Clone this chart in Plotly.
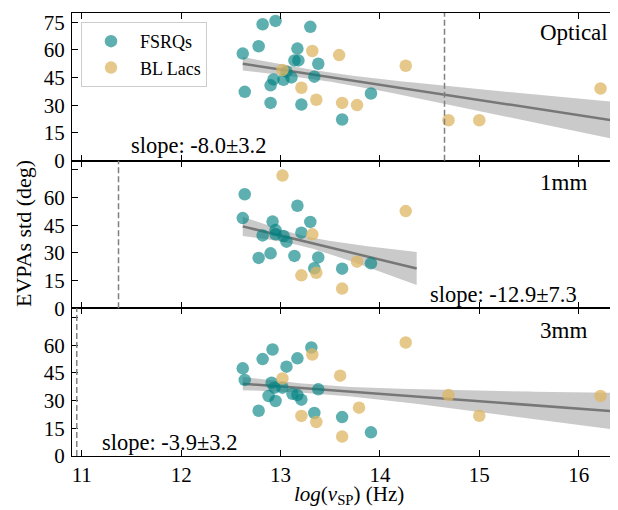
import numpy as np
import plotly.graph_objects as go

# ---------------- data ----------------
panel_names = ["Optical", "1mm", "3mm"]
slope_texts = ["slope: -8.0±3.2", "slope: -12.9±7.3", "slope: -3.9±3.2"]

opt_fsrq_x = [12.82, 12.95, 13.30, 12.78, 12.62, 13.17, 13.14, 13.18, 13.38, 13.34,
              13.11, 13.03, 12.93, 12.90, 13.06, 12.64, 12.90, 13.21, 13.62, 13.91]
opt_fsrq_y = [73.9, 75.7, 72.5, 62.0, 58.0, 60.7, 54.3, 54.3, 52.5, 45.5,
              45.1, 43.8, 44.0, 40.8, 48.2, 37.3, 31.3, 30.4, 22.3, 36.4]
opt_bl_x = [13.32, 13.59, 13.02, 13.21, 13.36, 13.62, 13.77, 14.26, 14.69, 15.00, 16.22]
opt_bl_y = [59.4, 57.2, 49.1, 39.5, 33.0, 31.3, 30.1, 51.4, 21.9, 21.9, 39.1]

mm1_fsrq_x = [12.64, 12.62, 13.17, 12.92, 13.30, 12.95, 12.82, 12.95, 13.03, 13.06,
              13.21, 12.78, 12.90, 13.14, 13.38, 13.34, 13.62, 13.91]
mm1_fsrq_y = [61.8, 48.9, 55.6, 47.0, 46.8, 42.4, 39.5, 40.1, 39.2, 36.1,
              41.0, 27.3, 29.8, 28.4, 27.6, 21.7, 21.5, 24.4]
mm1_bl_x = [13.02, 13.32, 13.21, 13.36, 13.62, 13.77, 14.26]
mm1_bl_y = [71.9, 40.1, 17.9, 19.3, 10.7, 25.3, 52.7]

mm3_fsrq_x = [12.92, 12.82, 13.31, 13.17, 12.62, 12.64, 13.06, 12.91, 12.94, 13.02,
              13.38, 12.88, 12.95, 13.12, 13.17, 13.21, 12.78, 13.34, 13.62, 13.91]
mm3_fsrq_y = [57.7, 52.5, 58.8, 52.9, 47.5, 41.2, 48.4, 39.7, 37.0, 37.0,
              36.1, 32.5, 29.8, 33.7, 33.0, 30.5, 24.5, 23.3, 21.1, 12.8]
mm3_bl_x = [13.32, 13.02, 13.60, 13.79, 13.21, 13.36, 13.62, 14.26, 14.69, 15.00, 16.22]
mm3_bl_y = [55.0, 42.0, 43.5, 26.2, 21.7, 18.4, 10.5, 61.5, 33.0, 21.8, 32.5]

# end of regression domain and dashed reference lines (log nu)
fit_x_end = [16.34, 14.37, 16.34]
vline_x = [14.65, 11.37, 10.95]

x_ticks = [11, 12, 13, 14, 15, 16]
y_ticks = [0, 15, 30, 45, 60, 75]
x_range = [10.902, 16.456]
y_range = [0, 80]
CI_Z = 1.0   # 68% confidence band

# ---------------- styling ----------------
FONT = "Liberation Serif"
TEAL = "rgba(0,128,128,0.63)"
TAN = "rgba(222,181,100,0.75)"
LINE_GREY = "#777777"
BAND = "rgba(150,150,150,0.5)"

panels = [
    (opt_fsrq_x, opt_fsrq_y, opt_bl_x, opt_bl_y),
    (mm1_fsrq_x, mm1_fsrq_y, mm1_bl_x, mm1_bl_y),
    (mm3_fsrq_x, mm3_fsrq_y, mm3_bl_x, mm3_bl_y),
]

# plot geometry (pixels)
W, H = 618, 510
ML, MR, MT, MB = 64, 2, 5, 62
ph = H - MT - MB
domains = [[2 / 3, 1.0], [1 / 3, 2 / 3], [0.0, 1 / 3]]

fig = go.Figure()

for i, (fx, fy, bx, by) in enumerate(panels):
    sx = "" if i == 0 else str(i + 1)
    xa, ya = "x" + sx, "y" + sx
    ax = np.array(fx + bx, dtype=float)
    ay = np.array(fy + by, dtype=float)
    slope, intercept = np.polyfit(ax, ay, 1)
    n = len(ax)
    xbar = ax.mean()
    resid = ay - (slope * ax + intercept)
    s = np.sqrt(np.sum(resid ** 2) / (n - 2))
    sxx = np.sum((ax - xbar) ** 2)
    xs = np.linspace(ax.min(), fit_x_end[i], 100)
    yhat = slope * xs + intercept
    se = s * np.sqrt(1.0 / n + (xs - xbar) ** 2 / sxx)
    up, lo = yhat + CI_Z * se, yhat - CI_Z * se
    fig.add_trace(go.Scatter(x=np.concatenate([xs, xs[::-1]]), y=np.concatenate([up, lo[::-1]]),
                             fill="toself", fillcolor=BAND, line=dict(width=0), mode="lines",
                             hoverinfo="skip", showlegend=False, xaxis=xa, yaxis=ya))
    fig.add_trace(go.Scatter(x=xs, y=yhat, mode="lines", line=dict(color=LINE_GREY, width=2.5),
                             showlegend=False, xaxis=xa, yaxis=ya))
    fig.add_trace(go.Scatter(x=fx, y=fy, mode="markers", name="FSRQs",
                             marker=dict(color=TEAL, size=12.5, line=dict(width=0)),
                             showlegend=(i == 0), xaxis=xa, yaxis=ya))
    fig.add_trace(go.Scatter(x=bx, y=by, mode="markers", name="BL Lacs",
                             marker=dict(color=TAN, size=12.5, line=dict(width=0)),
                             showlegend=(i == 0), xaxis=xa, yaxis=ya))
    fig.add_shape(type="line", x0=vline_x[i], x1=vline_x[i], y0=0, y1=1,
                  xref=xa, yref=ya + " domain",
                  line=dict(color="#808080", width=1.5, dash="6px,3px"))

    axis_common = dict(showline=True, linecolor="black", linewidth=1, mirror="allticks",
                       ticks="inside", ticklen=6, tickwidth=1, tickcolor="black",
                       showgrid=False, zeroline=False, automargin=False,
                       tickfont=dict(family=FONT, size=21, color="black"))
    fig.layout["xaxis" + sx] = dict(axis_common, domain=[0, 1], anchor=ya, range=x_range,
                                    tickvals=x_ticks, showticklabels=(i == 2),
                                    matches=None if i == 0 else "x")
    ytext = [str(v) for v in y_ticks]
    if i > 0:
        ytext[-1] = " "
    fig.layout["yaxis" + sx] = dict(axis_common, domain=domains[i], anchor=xa, range=y_range,
                                    tickvals=y_ticks, ticktext=ytext, ticklabelstandoff=2)

def px_x(p):
    return (p - ML) / (W - ML - MR)

def px_y(p):
    return (H - MB - p) / ph

# panel labels
label_y = [25, 174, 322]
for i, name in enumerate(panel_names):
    fig.add_annotation(text=name, x=px_x(530), y=px_y(label_y[i]), xref="paper", yref="paper",
                       xanchor="left", yanchor="middle", showarrow=False,
                       font=dict(family=FONT, size=23, color="black"))

# slope labels
slope_pos = [(121, 137), (420, 286), (92, 434)]
for i, t in enumerate(slope_texts):
    fig.add_annotation(text=t, x=px_x(slope_pos[i][0]), y=px_y(slope_pos[i][1]),
                       xref="paper", yref="paper", xanchor="left", yanchor="middle",
                       showarrow=False, font=dict(family=FONT, size=22.5, color="black"))

# axis titles
fig.add_annotation(text="EVPAs std (deg)", x=px_x(15), y=px_y(226), xref="paper", yref="paper",
                   textangle=-90, xanchor="center", yanchor="middle", showarrow=False,
                   font=dict(family=FONT, size=22, color="black"))
fig.add_annotation(text="<i>log</i>(<i>ν</i><sub>SP</sub>) (Hz)", x=px_x(341), y=px_y(487),
                   xref="paper", yref="paper", xanchor="center", yanchor="middle",
                   showarrow=False, font=dict(family=FONT, size=21, color="black"))

fig.update_layout(
    template="none",
    width=W, height=H,
    margin=dict(l=ML, r=MR, t=MT, b=MB),
    paper_bgcolor="white", plot_bgcolor="white",
    font=dict(family=FONT, color="black"),
    legend=dict(x=px_x(73), y=px_y(14), xanchor="left", yanchor="top",
                bordercolor="#cccccc", borderwidth=1, bgcolor="rgba(255,255,255,0.8)",
                font=dict(family=FONT, size=18, color="black"),
                itemwidth=48, tracegroupgap=4),
)

fig.write_html("out.html")
